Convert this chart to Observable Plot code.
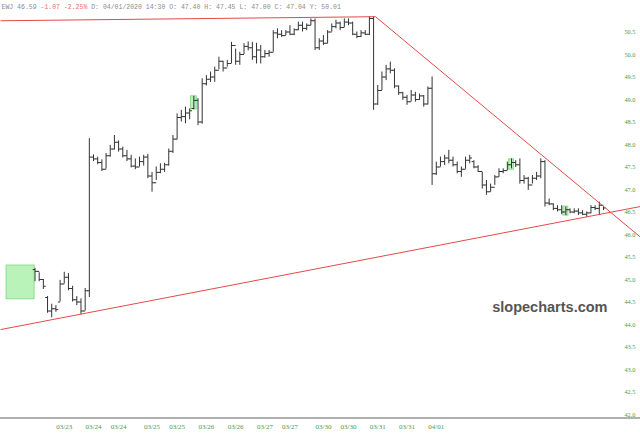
<!DOCTYPE html>
<html><head><meta charset="utf-8">
<script src="https://cdn.jsdelivr.net/npm/d3@7"></script>
<script src="https://cdn.jsdelivr.net/npm/@observablehq/plot@0.6"></script>
<style>body{margin:0;background:#fff}</style>
</head><body><div id="chart"></div>
<script>
// 30-minute OHLC bars, EWJ, 03/23 – 04/01 (bar index 0..136)
const opens = [45.22,45.18,45.00,44.60,44.30,44.35,44.50,44.90,45.05,44.80,44.55,44.50,44.30,44.75,
47.72,47.68,47.60,47.45,47.75,47.90,48.05,47.90,47.75,47.68,47.52,47.50,47.62,47.72,47.30,47.15,47.38,47.45,47.55,47.85,
48.12,48.60,48.62,48.70,48.80,48.98,48.50,49.35,49.45,49.50,49.65,49.85,49.70,49.80,50.20,49.85,50.00,50.18,50.15,49.95,50.10,49.95,50.02,
50.05,50.48,50.45,50.42,50.50,50.45,50.55,50.65,50.58,50.65,50.75,50.15,50.30,50.25,50.50,50.62,50.70,50.60,50.72,50.70,50.45,50.40,50.48,50.45,
50.80,48.90,49.20,49.50,49.68,49.65,49.30,49.15,49.05,48.95,49.10,49.00,49.08,48.90,49.25,47.35,47.50,47.62,47.70,47.65,47.55,47.40,47.45,47.65,
47.62,47.50,47.40,47.10,46.95,47.05,47.28,47.40,47.42,47.55,47.60,47.55,47.20,47.25,47.10,47.25,47.30,47.62,46.70,46.68,46.58,46.55,46.50,46.55,
46.50,46.52,46.48,46.45,46.48,46.60,46.58,46.65];
const highs = [45.25,45.15,45.00,44.62,44.45,44.42,44.98,45.16,45.13,44.85,44.62,44.57,44.80,48.13,
47.77,47.72,47.66,47.80,47.98,48.20,48.08,47.94,47.87,47.76,47.68,47.72,47.76,47.78,47.38,47.50,47.57,47.58,47.90,48.20,
48.68,48.76,48.83,48.79,49.07,49.02,49.46,49.53,49.61,49.72,49.94,49.85,49.87,50.27,50.12,50.05,50.24,50.28,50.27,50.25,50.20,50.09,50.09,
50.53,50.57,50.53,50.53,50.64,50.57,50.72,50.72,50.68,50.79,50.79,50.35,50.42,50.53,50.68,50.76,50.72,50.79,50.79,50.72,50.50,50.53,50.53,50.84,
50.84,49.31,49.61,49.76,49.83,49.68,49.30,49.16,49.09,49.20,49.16,49.12,49.09,49.28,49.50,47.61,47.72,47.76,47.87,47.72,47.61,47.50,47.72,47.76,
47.64,47.53,47.38,47.20,47.12,47.31,47.46,47.46,47.61,47.68,47.64,47.68,47.31,47.27,47.31,47.38,47.68,47.64,46.79,46.68,46.64,46.64,46.61,46.57,
46.57,46.57,46.53,46.50,46.64,46.64,46.72,46.61];
const lows = [44.95,44.95,44.78,44.25,44.15,44.27,44.50,44.90,44.75,44.50,44.42,44.22,44.30,44.60,
47.62,47.55,47.40,47.45,47.72,47.88,47.83,47.70,47.62,47.48,47.44,47.50,47.52,47.24,46.94,47.20,47.35,47.38,47.52,47.80,
48.10,48.50,48.46,48.55,48.77,48.42,48.45,49.30,49.38,49.38,49.66,49.61,49.72,49.80,49.76,49.76,50.00,50.08,49.87,49.79,49.79,49.92,49.94,
50.05,50.35,50.38,50.42,50.42,50.42,50.53,50.50,50.53,50.64,50.09,50.09,50.20,50.24,50.50,50.57,50.53,50.60,50.64,50.42,50.35,50.38,50.42,50.42,
48.76,48.87,49.20,49.42,49.57,49.24,49.09,48.98,48.87,48.95,48.94,48.98,48.83,48.88,47.09,47.31,47.50,47.53,47.57,47.50,47.35,47.27,47.45,47.57,
47.46,47.38,47.01,46.87,46.94,47.09,47.27,47.35,47.42,47.46,47.49,47.12,47.12,46.98,47.12,47.20,47.24,46.61,46.64,46.53,46.50,46.44,46.42,46.46,
46.46,46.42,46.42,46.38,46.46,46.53,46.42,46.53];
const closes = [45.18,45.00,44.85,44.30,44.35,44.33,44.90,45.05,44.80,44.55,44.50,44.30,44.75,47.72,
47.68,47.60,47.45,47.75,47.90,48.05,47.90,47.75,47.68,47.52,47.50,47.62,47.72,47.30,47.15,47.38,47.45,47.55,47.85,48.12,
48.60,48.62,48.70,48.75,48.98,48.50,49.35,49.45,49.50,49.65,49.85,49.70,49.80,50.20,49.85,50.00,50.18,50.15,49.95,50.10,49.95,50.02,50.05,
50.48,50.45,50.42,50.50,50.45,50.55,50.65,50.58,50.65,50.75,50.15,50.30,50.25,50.50,50.62,50.70,50.60,50.72,50.70,50.45,50.40,50.48,50.45,50.80,
48.90,49.20,49.50,49.68,49.65,49.30,49.15,49.05,48.95,49.10,49.00,49.08,48.90,49.25,47.35,47.50,47.62,47.70,47.65,47.55,47.40,47.45,47.65,47.70,
47.50,47.40,47.10,46.95,47.05,47.28,47.40,47.42,47.55,47.60,47.55,47.20,47.25,47.10,47.25,47.30,47.62,46.70,46.68,46.58,46.55,46.50,46.55,46.50,
46.52,46.48,46.45,46.48,46.60,46.58,46.65,46.59];

// date labels along the bottom (bar index where each label sits)
const xTickBars = [7,14,20,28,34,41,48,55,61,69,75,82,89,96];
const xTickLabels = ["03/23","03/24","03/24","03/25","03/25","03/26","03/26","03/27","03/27","03/30","03/30","03/31","03/31","04/01"];
// price labels on the right
const yTicks = [42.0,42.5,43.0,43.5,44.0,44.5,45.0,45.5,46.0,46.5,47.0,47.5,48.0,48.5,49.0,49.5,50.0,50.5];

// trendlines (bar index, price)
const trendFromBar = [-8.25, 81.46, -8.25];
const trendFromPrice = [50.75, 50.84, 43.887];
const trendToBar = [81.46, 144.86, 144.86];
const trendToPrice = [50.84, 45.94, 46.622];

// highlight boxes (bar index range, price range)
const boxFromBar = [-6.8, 37.3, 113.4, 126.4];
const boxToBar = [-0.1, 38.7, 114.6, 127.6];
const boxLowPrice = [44.56, 48.78, 47.44, 46.42];
const boxHighPrice = [45.31, 49.07, 47.67, 46.62];

// header
const headerParts = ["EWJ 46.59 ", "-1.07 -2.25%", " D: 04/01/2020 14:30 O: 47.40 H: 47.45 L: 47.00 C: 47.04 Y: 50.01"];
const headerColors = ["#8c8c8c", "#ee6b6b", "#8c8c8c"];
const watermark = "slopecharts.com";

const bars = opens.map((o, i) => ({i, o, h: highs[i], l: lows[i], c: closes[i]}));
const trends = trendFromBar.map((b, k) => ({x1: b, y1: trendFromPrice[k], x2: trendToBar[k], y2: trendToPrice[k]}));
const boxes = boxFromBar.map((b, k) => ({x1: b, x2: boxToBar[k], y1: boxLowPrice[k], y2: boxHighPrice[k]}));
const xTicks = xTickBars.map((b, k) => ({b, label: xTickLabels[k]}));

const xDomain = [-8.254, 144.856];
const yDomain = [41.9111, 51.2];

const headerFont = 6.5, charW = headerFont * 0.6;
let off = 0;
const headerMarks = headerParts.map((t, k) => {
  const m = Plot.text([t], {text: d => d, frameAnchor: "top-left", textAnchor: "start", lineAnchor: "top",
    dx: 1 + off * charW, dy: 4, fill: headerColors[k], fontSize: headerFont,
    fontFamily: "'Courier New', 'Liberation Mono', monospace"});
  off += t.length;
  return m;
});

const chart = Plot.plot({
  width: 640, height: 440,
  marginLeft: 0, marginRight: 0, marginTop: 0, marginBottom: 22,
  x: {domain: xDomain, axis: null},
  y: {domain: yDomain, axis: null},
  style: {background: "#fff"},
  marks: [
    Plot.rect(boxes, {x1: "x1", x2: "x2", y1: "y1", y2: "y2", fill: "#b9f3b9", stroke: "#8ddc8d", strokeWidth: 1}),
    Plot.ruleX(bars, {x: "i", y1: "l", y2: "h", stroke: "#333", strokeWidth: 1}),
    Plot.link(bars, {x1: d => d.i - 0.55, x2: "i", y1: "o", y2: "o", stroke: "#333", strokeWidth: 1}),
    Plot.link(bars, {x1: "i", x2: d => d.i + 0.55, y1: "c", y2: "c", stroke: "#333", strokeWidth: 1}),
    Plot.link(trends, {x1: "x1", y1: "y1", x2: "x2", y2: "y2", stroke: "#e24a4a", strokeWidth: 1}),
    Plot.ruleY([yDomain[0]], {stroke: "#b0b0b0", strokeWidth: 2, dy: -0.5}),
    Plot.text(yTicks, {y: d => d, text: d => d.toFixed(1), frameAnchor: "right", textAnchor: "end", dx: -5,
      fill: "#4e9a4e", fontSize: 6.3, fontFamily: "'Liberation Serif', serif"}),
    Plot.text(xTicks, {x: "b", text: "label", frameAnchor: "bottom", dy: 10.3,
      fill: "#4e9a4e", fontSize: 7, fontFamily: "'Liberation Serif', serif"}),
    Plot.text([watermark], {text: d => d, frameAnchor: "bottom-right", textAnchor: "end", dx: -33, dy: -106.6,
      fill: "#555", fontSize: 14.5, fontWeight: "bold", fontFamily: "'Liberation Sans', Arial, sans-serif"}),
    ...headerMarks
  ]
});
document.getElementById("chart").appendChild(chart);
</script>
</body></html>
